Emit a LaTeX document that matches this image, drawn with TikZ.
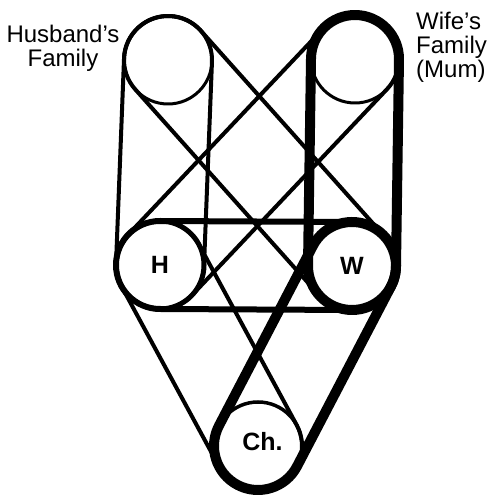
\documentclass[tikz,border=0pt]{standalone}
\usepackage{fontspec}
\setmainfont{Liberation Sans}
\usetikzlibrary{calc}
\newcommand{\R}{44pt}
\newcommand{\beltloop}[3]{%
  \draw[#1] let \p1=(#2.center), \p2=(#3.center), \n1={atan2(\y2-\y1,\x2-\x1)} in
    ($(\p1)+(\n1+90:\R)$) -- ($(\p2)+(\n1+90:\R)$)
    arc[start angle=\n1+90, end angle=\n1-90, radius=\R]
    -- ($(\p1)+(\n1-90:\R)$)
    arc[start angle=\n1-90, end angle=\n1-270, radius=\R] -- cycle;}
\begin{document}
\begin{tikzpicture}[x=1pt,y=1pt,
  pulley/.style={circle, draw, minimum size=88pt, inner sep=0pt,
    font=\bfseries\fontsize{25}{25}\selectfont},
  thinbelt/.style={line width=4pt, line join=round},
  midbelt/.style={line width=6pt, line join=round},
  thickbelt/.style={line width=10pt, line join=round},
  sidelabel/.style={inner sep=0pt, font=\fontsize{24}{24}\selectfont}]
\useasboundingbox (0,0) rectangle (494,495);
\node[pulley, line width=3pt] (HF) at (168,435) {};
\node[pulley, line width=3pt] (WF) at (355,436) {};
\node[pulley, line width=5pt] (H) at (160,230) {H};
\node[pulley, line width=5pt] (W) at (352,229) {W};
\node[pulley, line width=3.5pt] (Ch) at (258,49) {\hspace*{9pt}\raisebox{9pt}{Ch.}};
\beltloop{thinbelt}{HF}{H}
\beltloop{thinbelt}{HF}{W}
\beltloop{thinbelt}{WF}{H}
\beltloop{thinbelt}{H}{Ch}
\beltloop{midbelt}{H}{W}
\beltloop{thickbelt}{WF}{W}
\beltloop{thickbelt}{W}{Ch}
\node[sidelabel, anchor=north, align=center] (hlab) at (63,470) {Husband’s\\Family};
\node[sidelabel, anchor=north west, align=left] (wlab) at (416,483) {Wife’s\\Family\\(Mum)};
\end{tikzpicture}
\end{document}
